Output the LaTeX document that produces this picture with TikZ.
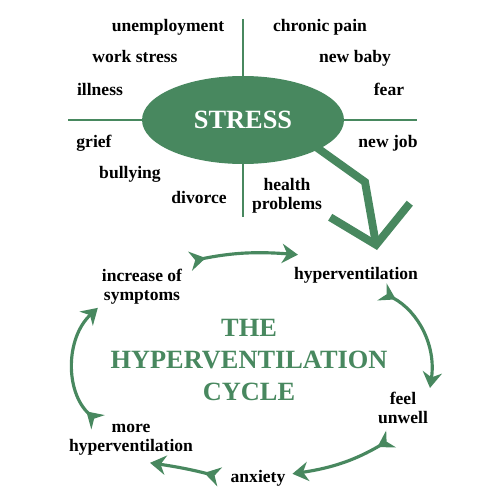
\documentclass[tikz,border=0pt]{standalone}
\usepackage{fontspec}
\setmainfont{Liberation Serif}
\usetikzlibrary{shapes.geometric,arrows.meta}
\definecolor{cyclegreen}{RGB}{72,136,95}

\begin{document}
\begin{tikzpicture}[x=0.02cm, y=-0.02cm,
    every node/.style={font=\fontsize{10}{11}\selectfont\bfseries, inner sep=1pt},
    cause/.style={anchor=base},
    twoline/.style={align=center},
    bigtext/.style={font=\fontsize{15}{18.2}\selectfont\bfseries},
    stem/.style={draw=cyclegreen, line width=1.5pt},
    loop/.style={draw=cyclegreen, line width=1.8pt, {Stealth[reversed, length=9pt, width=11pt]}-{Stealth[length=9pt, width=11pt]}},
    bigarrow/.style={draw=cyclegreen, line width=4.5pt, -{Straight Barb[length=20pt, width=46pt]}}
]
\useasboundingbox (0,0) rectangle (500,500);

\node[ellipse, fill=cyclegreen, text=white, bigtext, minimum width=4.04cm, minimum height=1.76cm, inner sep=0pt] (stress) at (243,120) {STRESS};

\coordinate (ltop) at (243,19);
\coordinate (lbot) at (243,217);
\coordinate (lleft) at (68,120);
\coordinate (lright) at (417,120);
\draw[stem] (ltop) -- (stress.north);
\draw[stem] (stress.south) -- (lbot);
\draw[stem] (lleft) -- (stress.west);
\draw[stem] (stress.east) -- (lright);

% what causes stress
\node[cause] (unemp) at (168,32) {unemployment};
\node[cause] (chronic) at (320,32) {chronic pain};
\node[cause] (work) at (135,63) {work stress};
\node[cause] (baby) at (355,63) {new baby};
\node[cause] (illness) at (100,95) {illness};
\node[cause] (fear) at (389,95) {fear};
\node[cause] (grief) at (94,147) {grief};
\node[cause] (newjob) at (388,147) {new job};
\node[cause] (bully) at (130,178) {bullying};
\node[cause] (divorce) at (199,203) {divorce};
\node[twoline] (health) at (287,196) {health\\problems};

\coordinate (bend) at (365,182);
\coordinate (tip) at (377,250);
\draw[bigarrow, shorten <=-4pt] (stress.-21) -- (bend) -- (tip);

% the cycle
\node[cause] (hyper) at (356,279) {hyperventilation};
\node[twoline] (feel) at (403,408) {feel\\unwell};
\node[cause] (anxiety) at (258,482) {anxiety};
\node[twoline] (more) at (131,440) {more\\hyperventilation};
\node[twoline] (increase) at (142,287) {increase of\\symptoms};

\node[twoline, bigtext, text=cyclegreen] (title) at (249,360) {THE\\HYPERVENTILATION\\CYCLE};

\draw[loop] ([shift={(6,-6)}]increase.north east) to[bend left=8] ([shift={(6,-10)}]hyper.north west);
\draw[loop] ([shift={(26,7)}]hyper.south) to[bend left=35] ([shift={(0,-2)}]feel.north east);
\draw[loop] ([shift={(-12,13)}]feel.south) to[bend left=11] ([shift={(5,-4)}]anxiety.east);
\draw[loop] ([shift={(-9,-1)}]anxiety.west) to[bend right=3] ([shift={(19,5)}]more.south);
\draw[loop] ([shift={(31,0)}]more.north west) to[bend left=47] ([shift={(-2,1)}]increase.south west);
\end{tikzpicture}
\end{document}
